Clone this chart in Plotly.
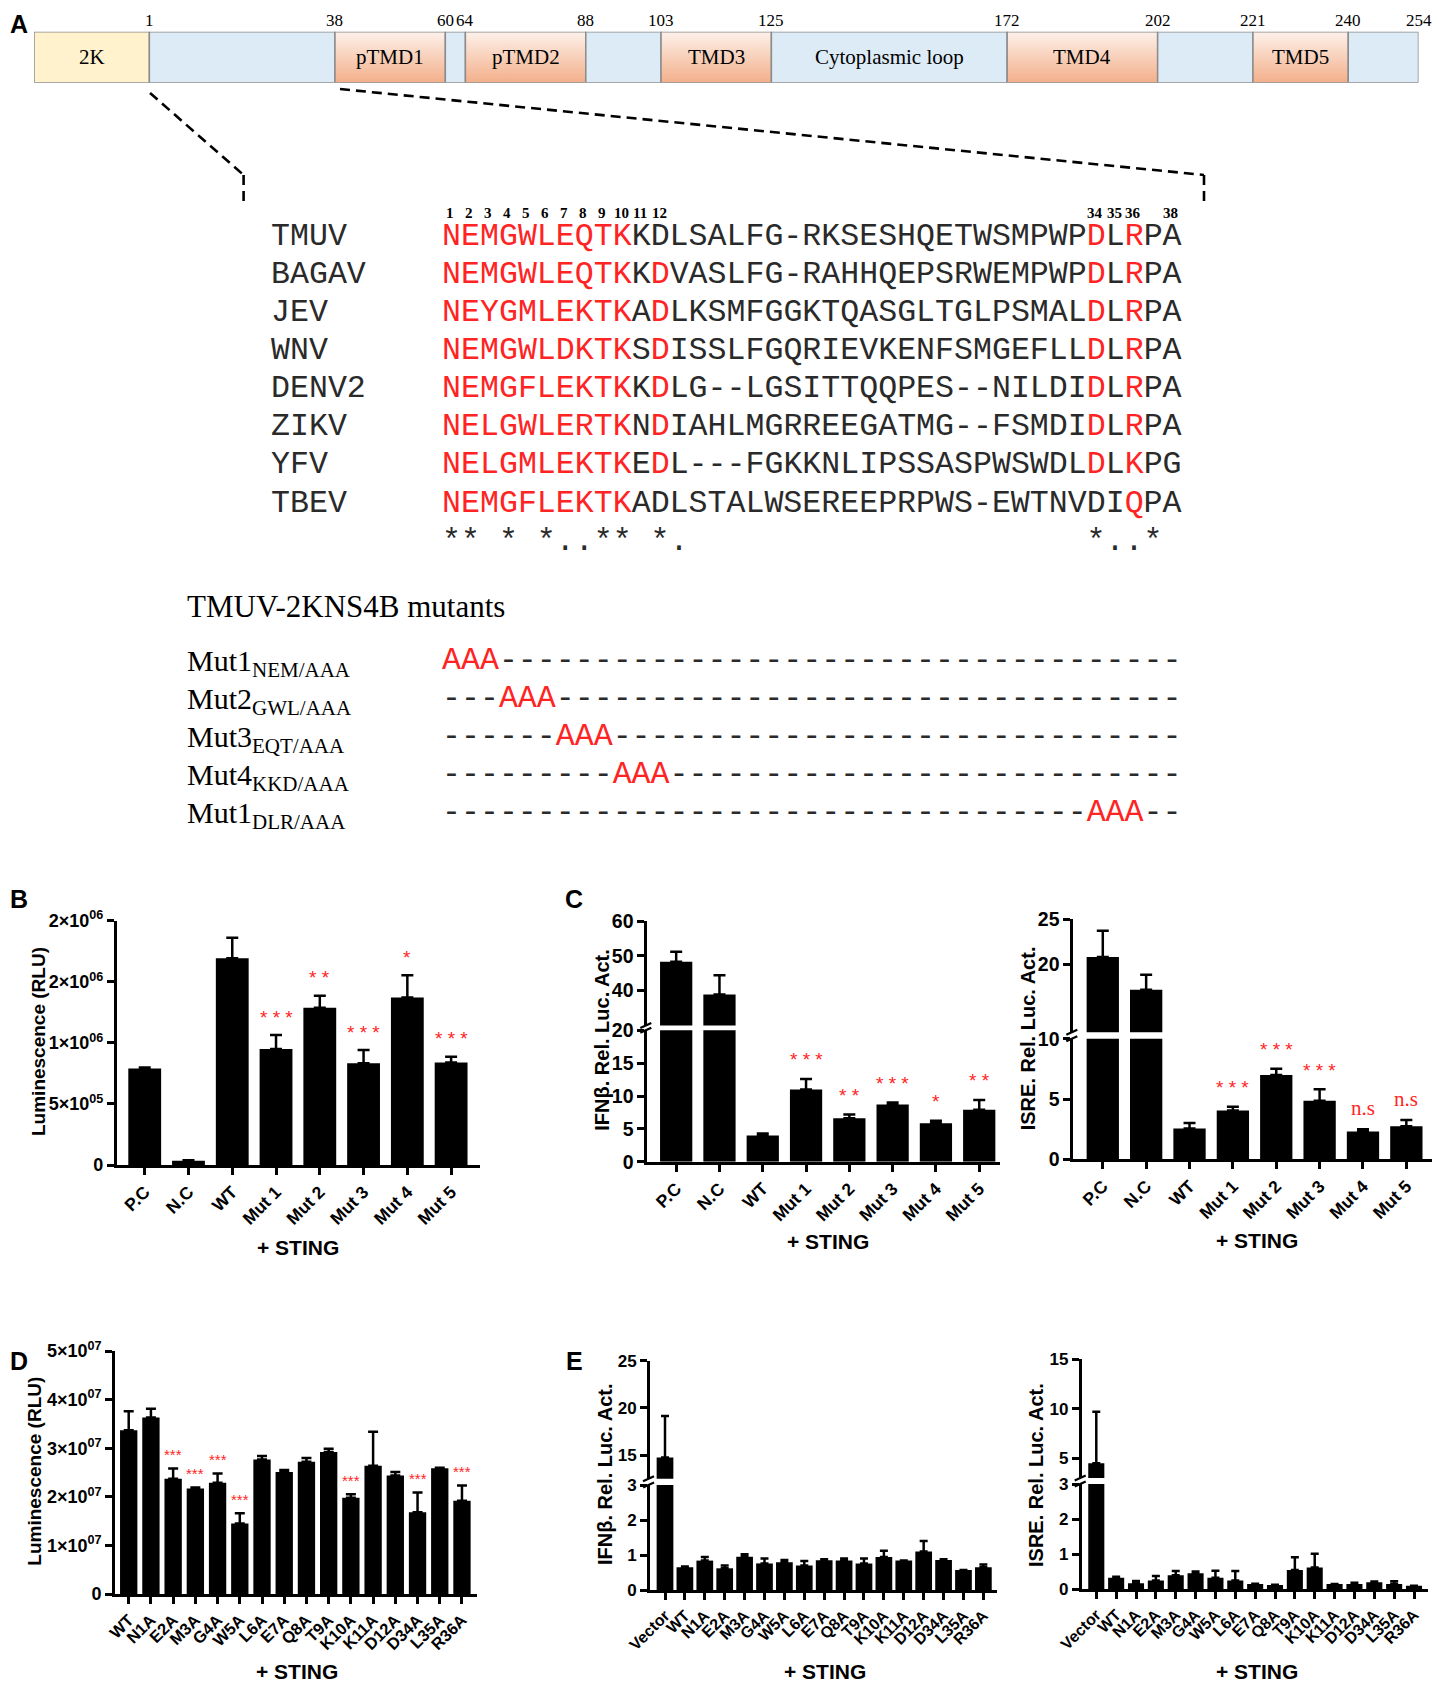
import plotly.graph_objects as go

# the page body keeps an 8 px margin, so the figure is drawn 8 px smaller
OFF = 8
W, H = 1440 - OFF, 1682 - OFF
SANS = "Liberation Sans"
SERIF = "Liberation Serif"
MONO = "Liberation Mono"
RED = "#FF2424"

# ---------------- Panel A: NS4B topology ----------------
seg_start = [-22, 1, 38, 60, 64, 88, 103, 125, 172, 202, 221, 240]
seg_end = [1, 38, 60, 64, 88, 103, 125, 172, 202, 221, 240, 254]
seg_label = ["2K", "", "pTMD1", "", "pTMD2", "", "TMD3", "Cytoplasmic loop", "TMD4", "", "TMD5", ""]
seg_kind = ["2k", "loop", "tm", "loop", "tm", "loop", "tm", "loop", "tm", "loop", "tm", "loop"]
pos_ticks = [1, 38, 60, 64, 88, 103, 125, 172, 202, 221, 240, 254]

species = ["TMUV", "BAGAV", "JEV", "WNV", "DENV2", "ZIKV", "YFV", "TBEV"]
sequences = [
    "NEMGWLEQTKKDLSALFG-RKSESHQETWSMPWPDLRPA",
    "NEMGWLEQTKKDVASLFG-RAHHQEPSRWEMPWPDLRPA",
    "NEYGMLEKTKADLKSMFGGKTQASGLTGLPSMALDLRPA",
    "NEMGWLDKTKSDISSLFGQRIEVKENFSMGEFLLDLRPA",
    "NEMGFLEKTKKDLG--LGSITTQQPES--NILDIDLRPA",
    "NELGWLERTKNDIAHLMGRREEGATMG--FSMDIDLRPA",
    "NELGMLEKTKEDL---FGKKNLIPSSASPWSWDLDLKPG",
    "NEMGFLEKTKADLSTALWSEREEPRPWS-EWTNVDIQPA",
]
first10 = list(range(1, 11))
red_cols = [
    first10 + [35, 37],
    first10 + [12, 35, 37],
    first10 + [12, 35, 37],
    first10 + [12, 35, 37],
    first10 + [12, 35, 37],
    first10 + [12, 35, 37],
    first10 + [12, 35, 37],
    first10 + [37],
]
conservation = "** * *..** *." + " " * 21 + "*..* "
header_res = [1, 2, 3, 4, 5, 6, 7, 8, 9, 10, 11, 12, 34, 35, 36, 38]

mut_names = ["Mut1", "Mut2", "Mut3", "Mut4", "Mut1"]
mut_subs = ["NEM/AAA", "GWL/AAA", "EQT/AAA", "KKD/AAA", "DLR/AAA"]
mut_cols = [1, 4, 7, 10, 35]

# ---------------- Panel B ----------------
b_cats = ["P.C", "N.C", "WT", "Mut 1", "Mut 2", "Mut 3", "Mut 4", "Mut 5"]
b_vals = [790000, 35000, 1692000, 950000, 1288000, 832000, 1372000, 840000]
b_errs = [8000, 3000, 169000, 114000, 98000, 109000, 181000, 47000]
b_sig = ["", "", "", "* * *", "* *", "* * *", "*", "* * *"]

# ---------------- Panel C ----------------
c1_vals = [48.3, 38.9, 4.0, 11.0, 6.6, 8.7, 5.85, 7.9]
c1_errs = [2.9, 5.5, 0.3, 1.6, 0.6, 0.3, 0.4, 1.5]
c1_sig = ["", "", "", "* * *", "* *", "* * *", "*", "* *"]
c2_vals = [20.8, 17.2, 2.55, 4.05, 7.0, 4.85, 2.3, 2.75]
c2_errs = [2.9, 1.65, 0.45, 0.3, 0.5, 0.95, 0.2, 0.5]
c2_sig = ["", "", "", "* * *", "* * *", "* * *", "n.s", "n.s"]

# ---------------- Panel D ----------------
d_cats = ["WT", "N1A", "E2A", "M3A", "G4A", "W5A", "L6A", "E7A", "Q8A",
          "T9A", "K10A", "K11A", "D12A", "D34A", "L35A", "R36A"]
d_vals = [3.37e7, 3.63e7, 2.37e7, 2.17e7, 2.29e7, 1.45e7, 2.77e7, 2.51e7,
          2.72e7, 2.92e7, 1.98e7, 2.64e7, 2.44e7, 1.68e7, 2.59e7, 1.92e7]
d_errs = [0.39e7, 0.18e7, 0.21e7, 0.02e7, 0.19e7, 0.21e7, 0.07e7, 0.04e7,
          0.08e7, 0.07e7, 0.07e7, 0.70e7, 0.07e7, 0.41e7, 0.01e7, 0.31e7]
d_sig = ["", "", "***", "***", "***", "***", "", "", "", "", "***", "", "", "***", "", "***"]

# ---------------- Panel E ----------------
e_cats = ["Vector"] + d_cats
e1_vals = [14.75, 0.65, 0.84, 0.62, 0.95, 0.76, 0.79, 0.70, 0.85, 0.84, 0.76, 0.94, 0.84, 1.10, 0.86, 0.57, 0.65]
e1_errs = [4.4, 0.02, 0.10, 0.08, 0.07, 0.14, 0.07, 0.13, 0.03, 0.06, 0.14, 0.18, 0.0, 0.30, 0.02, 0.0, 0.08]
e2_vals = [4.5, 0.33, 0.17, 0.25, 0.40, 0.46, 0.33, 0.25, 0.15, 0.12, 0.55, 0.62, 0.15, 0.15, 0.20, 0.15, 0.10]
e2_errs = [5.2, 0.03, 0.07, 0.13, 0.12, 0.05, 0.20, 0.27, 0.01, 0.01, 0.36, 0.39, 0.0, 0.04, 0.02, 0.08, 0.0]


# page pixel -> paper fraction
def fx(p):
    return (p - OFF) / W


def fy(p):
    return 1 - (p - OFF) / H


def ydom(top, bottom):
    return [fy(bottom), fy(top)]


def xdom(left, right):
    return [fx(left), fx(right)]


fig = go.Figure()
annotations = []
shapes = []


def note(x, y, text, font, xanchor="center", yanchor="middle", **kw):
    d = dict(x=x, y=y, text=text, showarrow=False, font=font, xanchor=xanchor,
             yanchor=yanchor, borderpad=0)
    d.setdefault("xref", "paper")
    d.setdefault("yref", "paper")
    d.update(kw)
    annotations.append(d)


# topology bar
seg_fill = {"2k": "#FFF2CC", "loop": "#DDEBF7"}
for s, e, kind, lab in zip(seg_start, seg_end, seg_kind, seg_label):
    tr = dict(x=[s, e, e, s, s], y=[0, 0, 1, 1, 0], mode="lines", fill="toself",
              line=dict(color="#8c8c8c", width=1.5), hoverinfo="skip",
              xaxis="x", yaxis="y")
    if kind == "tm":
        tr["fillgradient"] = dict(type="vertical",
                                  colorscale=[[0, "#F3AF8A"], [1, "#FDF1EA"]])
    else:
        tr["fillcolor"] = seg_fill[kind]
    fig.add_trace(go.Scatter(**tr))
    if lab:
        note((s + e) / 2, 0.5, lab, dict(family=SERIF, size=21, color="black"), xref="x", yref="y")

for p in pos_ticks:
    note(p, fy(20.5), str(p), dict(family=SERIF, size=17, color="black"), xref="x")

# dashed zoom lines
dash = dict(color="black", width=2.6, dash="10px,6px")
for x0, y0, x1, y1 in [(150, 93, 243.6, 175), (243.6, 175, 243.6, 205),
                       (340, 89, 1204, 175), (1204, 175, 1204, 205)]:
    shapes.append(dict(type="line", xref="paper", yref="paper",
                       x0=fx(x0), y0=fy(y0), x1=fx(x1), y1=fy(y1), line=dash))

# alignment
CW = 18.96
SEQ_X = 441
ROW_Y0 = 236.1
ROW_DY = 38.15
mono = dict(family=MONO, size=31.6, color="#2a2a2a")


def colorize(seq, reds):
    out = []
    for i, ch in enumerate(seq, start=1):
        ch = "\u00a0" if ch == " " else ch
        out.append(f"<span style='color:{RED}'>{ch}</span>" if i in reds else ch)
    return "".join(out)


ref_cols = [i + 1 for i, ch in enumerate(sequences[0]) if ch != "-"]
for r in header_res:
    c = ref_cols[r - 1]
    note(fx(SEQ_X + CW * (c - 0.5)), fy(213.5), str(r),
         dict(family=SERIF, size=15, color="black", weight="bold"))

for k, (name, seq, reds) in enumerate(zip(species, sequences, red_cols)):
    yy = fy(ROW_Y0 + k * ROW_DY)
    note(fx(270.4), yy, name, mono, xanchor="left")
    note(fx(SEQ_X), yy, colorize(seq, reds), mono, xanchor="left")
note(fx(SEQ_X), fy(ROW_Y0 + len(species) * ROW_DY), colorize(conservation, []), mono, xanchor="left")

# mutants
note(fx(185.6), fy(606), "TMUV-2KNS4B mutants", dict(family=SERIF, size=31, color="black"),
     xanchor="left")
n_cols = len(sequences[0])
for k, (nm, sb, c) in enumerate(zip(mut_names, mut_subs, mut_cols)):
    yc = 660 + k * 38.1
    note(fx(185.6), fy(yc), f"{nm}<sub>{sb}</sub>", dict(family=SERIF, size=30, color="black"),
         xanchor="left", yshift=-3)
    row = "-" * (c - 1) + f"<span style='color:{RED}'>AAA</span>" + "-" * (n_cols - c - 2)
    note(fx(SEQ_X), fy(yc), row, mono, xanchor="left")

# ---------------- bar charts ----------------
AXLINE = dict(showline=True, linecolor="black", linewidth=2.8, ticks="outside", ticklen=7,
              tickwidth=2.5, tickcolor="black", showgrid=False, zeroline=False,
              automargin=False)


def y_axis(top, bottom, rng, vals, texts, anchor, size=19.5):
    return dict(domain=ydom(top, bottom), range=rng, anchor=anchor, tickmode="array",
                tickvals=vals, ticktext=texts,
                tickfont=dict(family=SANS, size=size, color="black", weight="bold"), **AXLINE)


def x_axis(left, right, rng, cats, anchor, size=17.5):
    return dict(domain=xdom(left, right), range=rng, anchor=anchor, tickmode="array",
                tickvals=list(range(len(cats))), ticktext=cats, tickangle=-45,
                tickfont=dict(family=SANS, size=size, color="black", weight="bold"), **AXLINE)


def add_bars(xa, yas, vals, errs, width, capw):
    n = len(vals)
    for ya in yas:
        fig.add_trace(go.Bar(
            x=list(range(n)), y=vals, width=width, xaxis=xa, yaxis=ya, hoverinfo="skip",
            marker=dict(color="black", line=dict(width=0)),
            error_y=dict(type="data", array=errs, arrayminus=[0] * n, symmetric=False,
                         color="black", thickness=2.5, width=capw)))


def add_sig(xa, ya, vals, errs, sig, size, shift):
    for i, (v, e, s) in enumerate(zip(vals, errs, sig)):
        if not s:
            continue
        if s == "n.s":
            font = dict(family=SERIF, size=21, color=RED)
            ys = shift + 2
        else:
            font = dict(family=SANS, size=size, color=RED)
            ys = shift
        note(i, v + e, s, font, xref=xa, yref=ya, yshift=ys)


def label(x, y, text, size=20, angle=0, xanchor="center", yanchor="middle"):
    note(fx(x), fy(y), text, dict(family=SANS, size=size, color="black", weight="bold"),
         textangle=angle, xanchor=xanchor, yanchor=yanchor)


def break_marks(ax_x, y_up_bottom, y_low_top):
    for yb in (y_up_bottom, y_low_top):
        shapes.append(dict(type="line", xref="paper", yref="paper",
                           x0=fx(ax_x - 7), y0=fy(yb + 2.5), x1=fx(ax_x + 4), y1=fy(yb - 2.5),
                           line=dict(color="black", width=2.2)))


sup = lambda m, e: f"{m}×10<sup>{e}</sup>"

layout_axes = dict(
    xaxis=dict(domain=xdom(34, 1418.5), range=[-22, 254], visible=False, anchor="y"),
    yaxis=dict(domain=ydom(31.7, 82.7), range=[0, 1], visible=False, anchor="x"),
    # B
    xaxis2=x_axis(116.7, 480, [-0.64, 7.66], b_cats, "y2"),
    yaxis2=y_axis(920.7, 1165, [0, 2e6], [0, 5e5, 1e6, 1.5e6, 2e6],
                  ["0", sup(5, "05"), sup(1, "06"), sup(2, "06"), sup(2, "06")], "x2", size=18),
    # C left
    xaxis3=x_axis(647.3, 1000, [-0.667, 7.48], b_cats, "y3"),
    yaxis3=y_axis(1030.3, 1161.7, [0, 20], [0, 5, 10, 15, 20], ["0", "5", "10", "15", "20"], "x3"),
    yaxis4=y_axis(921, 1025.5, [30, 60], [40, 50, 60], ["40", "50", "60"], "x3"),
    # C right
    xaxis4=x_axis(1073.3, 1436.7, [-0.68, 7.70], b_cats, "y5"),
    yaxis5=y_axis(1038.7, 1159.3, [0, 10], [0, 5, 10], ["0", "5", "10"], "x4"),
    yaxis6=y_axis(919, 1032.3, [12.5, 25], [20, 25], ["20", "25"], "x4"),
    # D
    xaxis5=x_axis(115, 477.3, [-0.617, 15.69], d_cats, "y7", size=16.5),
    yaxis7=y_axis(1351, 1594, [0, 5e7], [0, 1e7, 2e7, 3e7, 4e7, 5e7],
                  ["0", sup(1, "07"), sup(2, "07"), sup(3, "07"), sup(4, "07"), sup(5, "07")], "x5",
                  size=18),
    # E left
    xaxis6=x_axis(650, 996.7, [-0.754, 16.67], e_cats, "y8", size=16),
    yaxis8=y_axis(1485, 1590, [0, 3], [0, 1, 2, 3], ["0", "1", "2", "3"], "x6", size=17),
    yaxis9=y_axis(1360.7, 1478.7, [12.5, 25], [15, 20, 25], ["15", "20", "25"], "x6", size=17),
    # E right
    xaxis7=x_axis(1081.7, 1428.3, [-0.735, 16.72], e_cats, "y10", size=16),
    yaxis10=y_axis(1484, 1589.3, [0, 3], [0, 1, 2, 3], ["0", "1", "2", "3"], "x7", size=17),
    yaxis11=y_axis(1359.3, 1478.1, [3, 15], [5, 10, 15], ["5", "10", "15"], "x7", size=17),
)

add_bars("x2", ["y2"], b_vals, b_errs, 0.75, 6)
add_sig("x2", "y2", b_vals, b_errs, b_sig, 19, 18)

add_bars("x3", ["y3", "y4"], c1_vals, c1_errs, 0.745, 6)
add_sig("x3", "y3", c1_vals, c1_errs, c1_sig, 19, 19)
break_marks(647.3, 1025.5, 1030.3)

add_bars("x4", ["y5", "y6"], c2_vals, c2_errs, 0.745, 6)
add_sig("x4", "y5", c2_vals, c2_errs, c2_sig, 19, 19)
break_marks(1073.3, 1032.3, 1038.7)

add_bars("x5", ["y7"], d_vals, d_errs, 0.78, 5)
add_sig("x5", "y7", d_vals, d_errs, d_sig, 15, 14)

add_bars("x6", ["y8", "y9"], e1_vals, e1_errs, 0.84, 4)
break_marks(650, 1478.7, 1485)

add_bars("x7", ["y10", "y11"], e2_vals, e2_errs, 0.81, 4)
break_marks(1081.7, 1478.1, 1484)

# axis titles
label(38, 1042, "Luminescence (RLU)", size=19, angle=-90)
label(601.7, 1040, "IFNβ. Rel. Luc. Act.", angle=-90)
label(1028.3, 1038, "ISRE. Rel. Luc. Act.", angle=-90)
label(35, 1471.7, "Luminescence (RLU)", size=19, angle=-90)
label(605, 1475, "IFNβ. Rel. Luc. Act.", angle=-90)
label(1036, 1475, "ISRE. Rel. Luc. Act.", angle=-90)
for x, y in [(298, 1247), (828, 1241.7), (1256.7, 1240), (296.7, 1671.7), (825, 1671.7), (1256.7, 1671.7)]:
    label(x, y, "+ STING", size=21)

# panel letters
label(8.5, 8.5, "A", size=25, xanchor="left", yanchor="top")
for t, x, y in [("B", 8.5, 899), ("D", 8.5, 1360.6)]:
    label(x, y, t, size=25, xanchor="left")
for t, x, y in [("C", 574, 899), ("E", 574, 1360.6)]:
    label(x, y, t, size=25)

fig.update_layout(
    width=W, height=H, margin=dict(l=0, r=0, t=0, b=0, pad=0, autoexpand=False),
    paper_bgcolor="white", plot_bgcolor="white", showlegend=False,
    annotations=annotations, shapes=shapes, **layout_axes,
)

fig.write_html("out.html")
